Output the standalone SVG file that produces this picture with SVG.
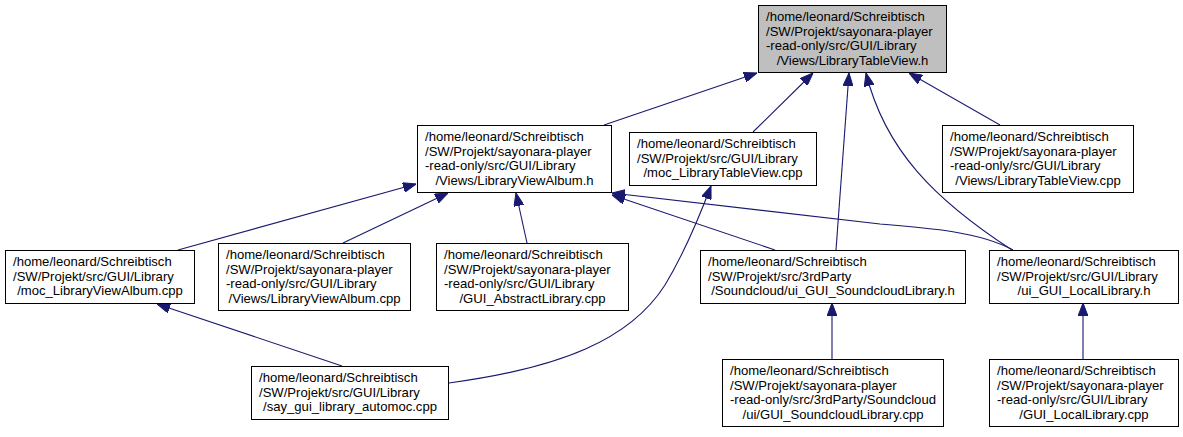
<svg xmlns="http://www.w3.org/2000/svg" width="1183" height="437" viewBox="0 0 1183 437">
<style>
.bg{fill:#ffffff}
.box{fill:#ffffff;stroke:#000000;stroke-width:1}
.root{fill:#bfbfbf;stroke:#000000;stroke-width:1}
text{font-family:"Liberation Sans",Arial,sans-serif;font-size:13.1px;fill:#000000}
.c{text-anchor:middle}
.edge{fill:none;stroke:#191970;stroke-width:1.1}
</style>
<defs>
<marker id="arr" viewBox="0 0 13 10" refX="13" refY="5" markerWidth="13" markerHeight="10" markerUnits="userSpaceOnUse" orient="auto">
<path d="M0,0 L13,5 L0,10 z" fill="#191970" stroke="#191970" stroke-width="1"/>
</marker>
</defs>
<rect class="bg" x="0" y="0" width="1183" height="437"/>
<g id="edges">
<path class="edge" marker-end="url(#arr)" d="M604,125 L757,73"/>
<path class="edge" marker-end="url(#arr)" d="M753,132 L813,73"/>
<path class="edge" marker-end="url(#arr)" d="M836,250 L849,73"/>
<path class="edge" marker-end="url(#arr)" d="M1012,250 C935,200 885,150 866,73"/>
<path class="edge" marker-end="url(#arr)" d="M1000,125 L909,73"/>
<path class="edge" marker-end="url(#arr)" d="M178,250 L416,184"/>
<path class="edge" marker-end="url(#arr)" d="M343,243 L448,193"/>
<path class="edge" marker-end="url(#arr)" d="M527,243 L516,193"/>
<path class="edge" marker-end="url(#arr)" d="M775,250 L612,195"/>
<path class="edge" marker-end="url(#arr)" d="M1013,250 C980,232 930,228 880,224 L612,193"/>
<path class="edge" marker-end="url(#arr)" d="M342,366 L157,304"/>
<path class="edge" marker-end="url(#arr)" d="M449,383 C560,368 630,340 665,285 C685,252 700,215 711,186"/>
<path class="edge" marker-end="url(#arr)" d="M832,359 L832,303"/>
<path class="edge" marker-end="url(#arr)" d="M1083,359 L1083,303"/>
</g>
<g id="n_LibraryTableView_h">
<rect class="root" x="758.5" y="5.5" width="188" height="67"/>
<text x="766" y="21">/home/leonard/Schreibtisch</text>
<text x="766" y="35.7">/SW/Projekt/sayonara-player</text>
<text x="766" y="50.3">-read-only/src/GUI/Library</text>
<text class="c" x="852.5" y="65">/Views/LibraryTableView.h</text>
</g>
<g id="n_LibraryViewAlbum_h">
<rect class="box" x="417.5" y="125.5" width="194" height="67"/>
<text x="425" y="141">/home/leonard/Schreibtisch</text>
<text x="425" y="155.7">/SW/Projekt/sayonara-player</text>
<text x="425" y="170.3">-read-only/src/GUI/Library</text>
<text class="c" x="514.5" y="185">/Views/LibraryViewAlbum.h</text>
</g>
<g id="n_moc_LibraryTableView_cpp">
<rect class="box" x="629.5" y="132.5" width="187" height="53"/>
<text x="637" y="148">/home/leonard/Schreibtisch</text>
<text x="637" y="162.7">/SW/Projekt/src/GUI/Library</text>
<text class="c" x="723" y="177.3">/moc_LibraryTableView.cpp</text>
</g>
<g id="n_LibraryTableView_cpp">
<rect class="box" x="942.5" y="125.5" width="191" height="67"/>
<text x="950" y="141">/home/leonard/Schreibtisch</text>
<text x="950" y="155.7">/SW/Projekt/sayonara-player</text>
<text x="950" y="170.3">-read-only/src/GUI/Library</text>
<text class="c" x="1038" y="185">/Views/LibraryTableView.cpp</text>
</g>
<g id="n_moc_LibraryViewAlbum_cpp">
<rect class="box" x="5.5" y="250.5" width="189" height="53"/>
<text x="13" y="266">/home/leonard/Schreibtisch</text>
<text x="13" y="280.7">/SW/Projekt/src/GUI/Library</text>
<text class="c" x="100" y="295.3">/moc_LibraryViewAlbum.cpp</text>
</g>
<g id="n_LibraryViewAlbum_cpp">
<rect class="box" x="218.5" y="243.5" width="192" height="67"/>
<text x="226" y="259">/home/leonard/Schreibtisch</text>
<text x="226" y="273.7">/SW/Projekt/sayonara-player</text>
<text x="226" y="288.3">-read-only/src/GUI/Library</text>
<text class="c" x="314.5" y="303">/Views/LibraryViewAlbum.cpp</text>
</g>
<g id="n_GUI_AbstractLibrary_cpp">
<rect class="box" x="436.5" y="243.5" width="192" height="67"/>
<text x="444" y="259">/home/leonard/Schreibtisch</text>
<text x="444" y="273.7">/SW/Projekt/sayonara-player</text>
<text x="444" y="288.3">-read-only/src/GUI/Library</text>
<text class="c" x="532.5" y="303">/GUI_AbstractLibrary.cpp</text>
</g>
<g id="n_ui_GUI_SoundcloudLibrary_h">
<rect class="box" x="700.5" y="250.5" width="265" height="53"/>
<text x="708" y="266">/home/leonard/Schreibtisch</text>
<text x="708" y="280.7">/SW/Projekt/src/3rdParty</text>
<text class="c" x="833" y="295.3">/Soundcloud/ui_GUI_SoundcloudLibrary.h</text>
</g>
<g id="n_ui_GUI_LocalLibrary_h">
<rect class="box" x="989.5" y="250.5" width="189" height="53"/>
<text x="997" y="266">/home/leonard/Schreibtisch</text>
<text x="997" y="280.7">/SW/Projekt/src/GUI/Library</text>
<text class="c" x="1084" y="295.3">/ui_GUI_LocalLibrary.h</text>
</g>
<g id="n_say_gui_library_automoc_cpp">
<rect class="box" x="251.5" y="366.5" width="197" height="53"/>
<text x="259" y="382">/home/leonard/Schreibtisch</text>
<text x="259" y="396.7">/SW/Projekt/src/GUI/Library</text>
<text class="c" x="350" y="411.3">/say_gui_library_automoc.cpp</text>
</g>
<g id="n_GUI_SoundcloudLibrary_cpp">
<rect class="box" x="722.5" y="359.5" width="221" height="67"/>
<text x="730" y="375">/home/leonard/Schreibtisch</text>
<text x="730" y="389.7">/SW/Projekt/sayonara-player</text>
<text x="730" y="404.3">-read-only/src/3rdParty/Soundcloud</text>
<text class="c" x="833" y="419">/ui/GUI_SoundcloudLibrary.cpp</text>
</g>
<g id="n_GUI_LocalLibrary_cpp">
<rect class="box" x="989.5" y="359.5" width="189" height="67"/>
<text x="997" y="375">/home/leonard/Schreibtisch</text>
<text x="997" y="389.7">/SW/Projekt/sayonara-player</text>
<text x="997" y="404.3">-read-only/src/GUI/Library</text>
<text class="c" x="1084" y="419">/GUI_LocalLibrary.cpp</text>
</g>
</svg>
